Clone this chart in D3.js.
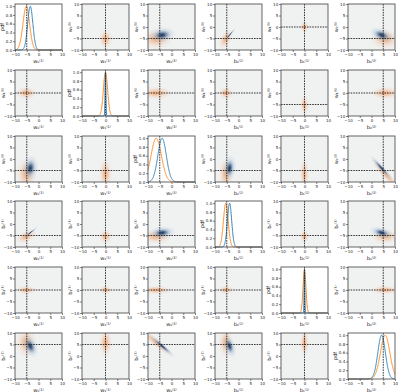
<!DOCTYPE html>
<html>
<head>
<meta charset="utf-8">
<script src="https://cdn.jsdelivr.net/npm/d3@7"></script>
<style>
  body { margin: 0; background: #fff; }
  text { font-family: "DejaVu Sans", sans-serif; }
</style>
</head>
<body>
<div id="chart"></div>
<script>
// variable names, true values and the two fitted distributions (blue / orange)
const varNames = ['w₀⁽¹⁾', 'w₁⁽¹⁾', 'w₀⁽²⁾', 'b₀⁽¹⁾', 'b₁⁽¹⁾', 'b₀⁽²⁾'];
const trueValues = [-5, 0, -5, -5, 0, 5];
const blueMean = [-3.5, 0, -4, -3.8, 0, 4.3];
const blueSd = [1.1, 0.18, 1.8, 0.9, 0.15, 1.6];
const orangeMean = [-5.2, 0, -6.5, -5.4, 0, 5.8];
const orangeSd = [1.4, 0.9, 2.2, 1.0, 0.6, 2.0];
// [var i, var j, correlation]
const blueCorr = [[0, 3, 0.97], [2, 5, -0.95], [0, 5, -0.4], [3, 5, -0.4], [0, 2, 0.15], [2, 3, 0.15]];
const orangeCorr = [[2, 5, -0.93], [0, 3, 0.5]];
// [row, col, variable shown on y] for panels that do not follow the row
const yVarSwap = [[0, 4, 1], [1, 4, 0]];
const axisTicks = [-10, -5, 0, 5, 10];
const pdfTicks = [0, 0.2, 0.4, 0.6, 0.8, 1.0];

const W = 398, H = 392;
const pw = 47, ph = 46;
const colLeft = c => Math.round(15 + c * 66.6);
const rowTop = r => Math.round(4 + r * 65.8);
const n = varNames.length;

const svg = d3.select('#chart').append('svg')
    .attr('width', W)
    .attr('height', H);

function corrOf(table, i, j) {
    let hit = table.find(t => (t[0] == i && t[1] == j) || (t[0] == j && t[1] == i));
    return hit ? hit[2] : 0;
}

function yVarOf(r, c) {
    let hit = yVarSwap.find(t => t[0] == r && t[1] == c);
    return hit ? hit[2] : r;
}

function gauss(v, m, s) {
    return Math.exp(-0.5 * ((v - m) / s) ** 2);
}

function styleAxis(ax) {
    ax.select('.domain').remove();
    ax.selectAll('line').attr('stroke', '#333').attr('stroke-width', 0.6);
    ax.selectAll('text').attr('font-size', 4).attr('fill', '#222');
}

const fmt = d3.format('');
const blueColor = d3.interpolateRgb('#a9cbe8', '#1b3862');

for (let r = 0; r < n; r++) {
    for (let c = 0; c < n; c++) {
        let g = svg.append('g').attr('transform', `translate(${colLeft(c)},${rowTop(r)})`);
        let x = d3.scaleLinear().domain([-10, 10]).range([0, pw]);
        let y;
        let yv = yVarOf(r, c);

        if (r == c) {
            y = d3.scaleLinear().domain([0, 1.05]).range([ph, 0]);
            let xs = d3.range(-10, 10.0001, 0.05);
            let line = d3.line().x(d => x(d[0])).y(d => y(d[1]));
            g.append('path')
                .datum(xs.map(v => [v, gauss(v, orangeMean[c], orangeSd[c])]))
                .attr('d', line)
                .attr('fill', 'none')
                .attr('stroke', '#ff7f0e')
                .attr('stroke-width', 0.9);
            g.append('path')
                .datum(xs.map(v => [v, gauss(v, blueMean[c], blueSd[c])]))
                .attr('d', line)
                .attr('fill', 'none')
                .attr('stroke', '#1f77b4')
                .attr('stroke-width', 0.9);
        } else {
            y = d3.scaleLinear().domain([-10, 10]).range([ph, 0]);
            g.append('rect')
                .attr('width', pw)
                .attr('height', ph)
                .attr('fill', '#f0f1f1');

            let cellsX = d3.range(pw).map(i => x.invert(i + 0.5));
            let cellsY = d3.range(ph).map(i => y.invert(i + 0.5));
            let cw = 20 / pw, ch = 20 / ph;

            let blobs = [
                {mx: orangeMean[c], my: orangeMean[yv], sx: orangeSd[c], sy: orangeSd[yv],
                 rho: corrOf(orangeCorr, c, yv), kind: 'orange'}
            ];
            if (blueSd[c] > 0.3 && blueSd[yv] > 0.3) {
                blobs.push({mx: blueMean[c], my: blueMean[yv], sx: blueSd[c], sy: blueSd[yv],
                            rho: corrOf(blueCorr, c, yv), kind: 'blue'});
            }
            blobs.forEach(b => {
                let cells = [];
                cellsX.forEach(xv => cellsY.forEach(yv2 => {
                    let dx = (xv - b.mx) / b.sx, dy = (yv2 - b.my) / b.sy;
                    let z = (dx * dx - 2 * b.rho * dx * dy + dy * dy) / (1 - b.rho * b.rho);
                    let d = Math.exp(-z / 2);
                    if (d > 0.01) cells.push({xv: xv, yv: yv2, d: d});
                }));
                g.append('g').selectAll('rect')
                    .data(cells)
                    .join('rect')
                    .attr('x', d => x(d.xv - cw / 2))
                    .attr('y', d => y(d.yv + ch / 2))
                    .attr('width', x(cw) - x(0))
                    .attr('height', y(0) - y(ch))
                    .attr('shape-rendering', 'crispEdges')
                    .attr('fill', d => b.kind == 'orange' ? '#f39a5c' : blueColor(d.d))
                    .attr('fill-opacity', d => b.kind == 'orange'
                        ? 0.7 * Math.pow(d.d, 0.75)
                        : 0.95 * Math.pow(d.d, 0.55));
            });

            // horizontal true-value line
            g.append('line')
                .attr('x1', 0).attr('x2', pw)
                .attr('y1', y(trueValues[yv])).attr('y2', y(trueValues[yv]))
                .attr('stroke', '#222')
                .attr('stroke-width', 0.9)
                .attr('stroke-dasharray', '1.6,1');
        }

        // vertical true-value line
        g.append('line')
            .attr('x1', x(trueValues[c])).attr('x2', x(trueValues[c]))
            .attr('y1', 0).attr('y2', ph)
            .attr('stroke', '#222')
            .attr('stroke-width', 0.9)
            .attr('stroke-dasharray', '1.6,1');

        // frame
        g.append('rect')
            .attr('width', pw)
            .attr('height', ph)
            .attr('fill', 'none')
            .attr('stroke', '#555')
            .attr('stroke-width', 0.9);

        let xa = g.append('g')
            .attr('transform', `translate(0,${ph})`)
            .call(d3.axisBottom(x).tickValues(axisTicks).tickSize(2).tickPadding(1).tickFormat(fmt));
        styleAxis(xa);

        let ya = g.append('g')
            .call(r == c
                ? d3.axisLeft(y).tickValues(pdfTicks).tickSize(2).tickPadding(0.8).tickFormat(d3.format('.1f'))
                : d3.axisLeft(y).tickValues(axisTicks).tickSize(2).tickPadding(0.8).tickFormat(fmt));
        styleAxis(ya);

        g.append('text')
            .attr('x', pw / 2)
            .attr('y', ph + 12.5)
            .attr('text-anchor', 'middle')
            .attr('font-size', 5)
            .attr('fill', '#222')
            .text(varNames[c]);

        g.append('text')
            .attr('transform', `translate(${r == c ? -11 : -10},${ph / 2}) rotate(-90)`)
            .attr('text-anchor', 'middle')
            .attr('font-size', 5)
            .attr('fill', '#222')
            .text(r == c ? 'pdf' : varNames[yv]);
    }
}
</script>
</body>
</html>
